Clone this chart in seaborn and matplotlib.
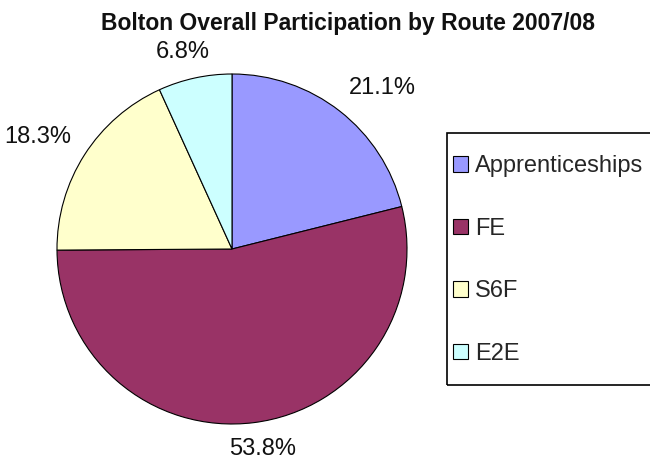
import matplotlib
matplotlib.use("Agg")
import matplotlib.pyplot as plt
from matplotlib.patches import Rectangle
import numpy as np
import seaborn as sns

# data
routes = ['Apprenticeships', 'FE', 'S6F', 'E2E']
shares = [21.1, 53.8, 18.3, 6.8]
colours = ['#9999FF', '#993366', '#FFFFCC', '#CCFFFF']

sns.set_theme(style="white")
plt.rcParams['font.family'] = ['Liberation Sans', 'DejaVu Sans']

W, H = 650, 459
fig = plt.figure(figsize=(W / 100, H / 100), dpi=100)
# pie centre ~ (232, 249) px, radius ~175 px
cx, cy, R = 232, 249, 175
ax = fig.add_axes([(cx - R) / W, (H - cy - R) / H, 2 * R / W, 2 * R / H])

wedges, texts, autotexts = ax.pie(shares,
                                  colors=sns.color_palette(colours),
                                  startangle=90,
                                  counterclock=False,
                                  autopct='%1.1f%%',
                                  pctdistance=1.2,
                                  wedgeprops=dict(edgecolor='black', linewidth=0.8),
                                  textprops=dict(fontsize=17, color='#111111'))
ax.set_aspect('equal')
ax.set_xlim(-1, 1)
ax.set_ylim(-1, 1)
ax.axis('off')

# excel-style label placement: just outside the rim, pushed away along the bisector
fig.canvas.draw()
rend = fig.canvas.get_renderer()
for w, t in zip(wedges, autotexts):
    ang = np.deg2rad((w.theta1 + w.theta2) / 2)
    bb = t.get_window_extent(rend)
    px, py = ax.transData.transform((1.09 * np.cos(ang), 1.09 * np.sin(ang)))
    tx = px + np.clip(1.6 * np.cos(ang), -1, 1) * bb.width / 2
    ty = py + np.clip(1.6 * np.sin(ang), -1, 1) * bb.height / 2
    t.set_position(ax.transData.inverted().transform((tx, ty)))
    t.set_ha('center')
    t.set_va('center')

fig.text(348 / W, 1 - 30 / H, 'Bolton Overall Participation by Route 2007/08',
         ha='center', va='baseline', fontsize=16.5, fontweight='bold', color='#111111')

leg = fig.legend(wedges, routes,
                 loc='upper left',
                 bbox_to_anchor=(453 / W, 1 - 155 / H),
                 frameon=False,
                 fontsize=17, labelspacing=1.72,
                 handlelength=0.64, handleheight=0.64, handletextpad=0.3,
                 borderpad=0, borderaxespad=0)
for h in leg.legend_handles:
    h.set_edgecolor('black')
    h.set_linewidth(0.8)

# legend box runs off the right edge like the original
fig.patches.append(Rectangle((447 / W, 1 - 385 / H), 220 / W, 252 / H,
                             transform=fig.transFigure, fill=False,
                             edgecolor='black', linewidth=1.2))

fig.savefig('out.png', dpi=100)
